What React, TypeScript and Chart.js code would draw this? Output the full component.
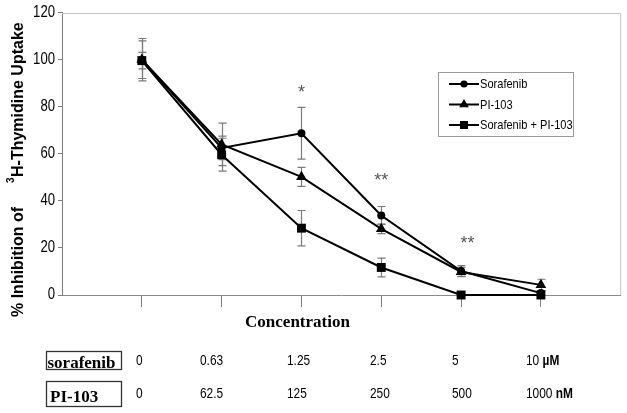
import React, { useEffect, useRef } from 'react';
import { Chart, registerables } from 'chart.js';

Chart.register(...registerables);

// ---------- data ----------
const CONC_INDEX = [0, 1, 2, 3, 4, 5];
const SORAFENIB_CONC = ['0', '0.63', '1.25', '2.5', '5', '10'];
const PI103_CONC = ['0', '62.5', '125', '250', '500', '1000'];
const SORAFENIB_UNIT = 'µM';
const PI103_UNIT = 'nM';

const SORAFENIB_VALUES = [100, 62.5, 68.7, 33.8, 10.2, 0.8];
const SORAFENIB_ERR = [9, 5, 11, 3.8, 2.3, 1];
const PI103_VALUES = [100, 64, 50.2, 28.1, 9.8, 4.3];
const PI103_ERR = [8, 9, 4, 2, 2, 2.4];
const COMBO_VALUES = [99.6, 59.6, 28.4, 11.7, 0, 0];
const COMBO_ERR = [3.5, 7, 7.5, 4, 0, 0];

const SERIES_LABELS = ['Sorafenib', 'PI-103', 'Sorafenib + PI-103'];
const SERIES_MARKERS = ['circle', 'triangle', 'rect'];

const SIGNIF_X = [2, 3, 4.08];
const SIGNIF_Y = [87, 49.5, 23];
const SIGNIF_TEXT = ['*', '**', '**'];

const Y_MIN = 0;
const Y_MAX = 120;
const Y_STEP = 20;

const X_TITLE = 'Concentration';
const Y_TITLE_A = '% Inhibition of';
const Y_TITLE_SUP = '3';
const Y_TITLE_B = 'H-Thymidine Uptake';
const ROW_LABELS = ['sorafenib', 'PI-103'];

// ---------- styles / layout ----------
const SANS = '"Liberation Sans", Arial, sans-serif';
const SERIF = '"Liberation Serif", "Times New Roman", serif';
const NARROW_SCALE = 0.82;
const MARKER_RADIUS: Record<string, number> = { circle: 4, triangle: 6.2, rect: 6.3 };
const TABLE_COL_X = [136, 200, 287, 370, 452, 526];
const TABLE_ROW_BASE = [365, 398];
const TABLE_LABEL_BASE = [367.5, 402];
const TABLE_BOX = [
  { x: 46.5, y: 351.5, w: 75, h: 18 },
  { x: 46.5, y: 381.5, w: 75, h: 25 },
];

function drawMarker(ctx: CanvasRenderingContext2D, style: string, x: number, y: number, r: number) {
  ctx.beginPath();
  if (style === 'circle') {
    ctx.arc(x, y, r, 0, Math.PI * 2);
  } else if (style === 'triangle') {
    const h = r * 0.866;
    ctx.moveTo(x, y - r);
    ctx.lineTo(x + h, y + r / 2);
    ctx.lineTo(x - h, y + r / 2);
    ctx.closePath();
  } else {
    const s = r * Math.SQRT1_2;
    ctx.rect(x - s, y - s, s * 2, s * 2);
  }
  ctx.fill();
}

// draw text horizontally condensed (narrow face)
function narrowText(ctx: CanvasRenderingContext2D, text: string, x: number, y: number) {
  ctx.save();
  ctx.translate(x, y);
  ctx.scale(NARROW_SCALE, 1);
  ctx.fillText(text, 0, 0);
  ctx.restore();
}

const narrowTicksPlugin = {
  id: 'narrowTicks',
  afterLayout(chart: any) {
    const s = chart.scales.y;
    if (!s || s.__narrow) return;
    const orig = s.drawLabels.bind(s);
    s.drawLabels = (area: any) => {
      const ctx = s.ctx;
      const ax = s.right - 7;
      ctx.save();
      ctx.translate(ax, 0);
      ctx.scale(NARROW_SCALE, 1);
      ctx.translate(-ax, 0);
      orig(area);
      ctx.restore();
    };
    s.__narrow = true;
  },
};

const errorBarPlugin = {
  id: 'errorBars',
  beforeDatasetsDraw(chart: any) {
    const { ctx, chartArea, scales } = chart;
    const xs = scales.x;
    const ys = scales.y;
    ctx.save();
    // frame: top and right
    ctx.strokeStyle = '#c4c4c4';
    ctx.lineWidth = 1;
    ctx.beginPath();
    ctx.moveTo(chartArea.left, Math.round(chartArea.top) + 0.5);
    ctx.lineTo(chartArea.right, Math.round(chartArea.top) + 0.5);
    ctx.lineTo(chartArea.right, chartArea.bottom);
    ctx.stroke();
    const errs = [SORAFENIB_ERR, PI103_ERR, COMBO_ERR];
    const vals = [SORAFENIB_VALUES, PI103_VALUES, COMBO_VALUES];
    ctx.strokeStyle = '#7a7a7a';
    ctx.lineWidth = 1.2;
    for (let d = 0; d < vals.length; d++) {
      for (let i = 0; i < CONC_INDEX.length; i++) {
        const e = errs[d][i];
        if (!e) continue;
        const x = Math.round(xs.getPixelForValue(CONC_INDEX[i])) + 0.5;
        const yt = ys.getPixelForValue(vals[d][i] + e);
        const yb = ys.getPixelForValue(Math.max(vals[d][i] - e, Y_MIN));
        ctx.beginPath();
        ctx.moveTo(x, yt);
        ctx.lineTo(x, yb);
        ctx.moveTo(x - 4, yt);
        ctx.lineTo(x + 4, yt);
        ctx.moveTo(x - 4, yb);
        ctx.lineTo(x + 4, yb);
        ctx.stroke();
      }
    }
    ctx.restore();
  },
  afterDatasetsDraw(chart: any) {
    const { ctx, scales } = chart;
    ctx.save();
    ctx.fillStyle = '#555';
    ctx.font = `18px ${SANS}`;
    ctx.textAlign = 'center';
    ctx.textBaseline = 'middle';
    for (let i = 0; i < SIGNIF_TEXT.length; i++) {
      ctx.fillText(SIGNIF_TEXT[i], scales.x.getPixelForValue(SIGNIF_X[i]), scales.y.getPixelForValue(SIGNIF_Y[i]) + 3);
    }
    ctx.restore();
  },
};

const decorPlugin = {
  id: 'decor',
  afterDraw(chart: any) {
    const { ctx } = chart;
    ctx.save();
    // legend
    ctx.strokeStyle = '#9a9a9a';
    ctx.lineWidth = 1;
    ctx.strokeRect(438.5, 72.5, 135, 64);
    const rows = [84, 104.5, 125];
    chart.data.datasets.forEach((ds: any, i: number) => {
      const y = rows[i];
      ctx.strokeStyle = '#000';
      ctx.lineWidth = 2;
      ctx.beginPath();
      ctx.moveTo(449, y);
      ctx.lineTo(479, y);
      ctx.stroke();
      ctx.fillStyle = '#000';
      drawMarker(ctx, SERIES_MARKERS[i], 464, y, MARKER_RADIUS[SERIES_MARKERS[i]] * 0.9);
      ctx.font = `13.5px ${SANS}`;
      ctx.textAlign = 'left';
      ctx.textBaseline = 'middle';
      narrowText(ctx, ds.label, 480, y + 0.5);
    });

    // y title (rotated)
    ctx.fillStyle = '#000';
    ctx.translate(19, 317);
    ctx.rotate(-Math.PI / 2);
    ctx.textAlign = 'left';
    ctx.textBaseline = 'middle';
    ctx.font = `bold 16px ${SANS}`;
    ctx.fillText(Y_TITLE_A, 0, 0);
    ctx.font = `bold 10px ${SANS}`;
    ctx.fillText(Y_TITLE_SUP, 134, -8);
    ctx.font = `bold 16px ${SANS}`;
    ctx.fillText(Y_TITLE_B, 140, 0);
    ctx.setTransform(1, 0, 0, 1, 0, 0);

    // x title
    ctx.font = `bold 17px ${SERIF}`;
    ctx.textAlign = 'center';
    ctx.textBaseline = 'alphabetic';
    ctx.fillText(X_TITLE, 297.5, 327);

    // table
    const rowVals = [SORAFENIB_CONC, PI103_CONC];
    const units = [SORAFENIB_UNIT, PI103_UNIT];
    for (let r = 0; r < 2; r++) {
      const b = TABLE_BOX[r];
      ctx.strokeStyle = '#333';
      ctx.lineWidth = 1.3;
      ctx.strokeRect(b.x, b.y, b.w, b.h);
      ctx.font = `bold 17px ${SERIF}`;
      ctx.textAlign = 'left';
      ctx.fillText(ROW_LABELS[r], b.x + (r === 0 ? 1 : 3.5), TABLE_LABEL_BASE[r]);
      for (let c = 0; c < rowVals[r].length; c++) {
        ctx.font = `14.5px ${SANS}`;
        const t = rowVals[r][c];
        narrowText(ctx, t, TABLE_COL_X[c], TABLE_ROW_BASE[r]);
        if (c === rowVals[r].length - 1) {
          const w = ctx.measureText(t + ' ').width * NARROW_SCALE;
          ctx.font = `bold 14.5px ${SANS}`;
          narrowText(ctx, units[r], TABLE_COL_X[c] + w, TABLE_ROW_BASE[r]);
        }
      }
    }
    ctx.restore();
  },
};

export default function App() {
  const ref = useRef<HTMLCanvasElement | null>(null);
  useEffect(() => {
    if (!ref.current) return;
    const mk = (vals: number[]) => CONC_INDEX.map((x, i) => ({ x, y: vals[i] }));
    const seriesVals = [SORAFENIB_VALUES, PI103_VALUES, COMBO_VALUES];
    const chart = new Chart(ref.current, {
      type: 'line',
      data: {
        datasets: seriesVals.map((v, i) => ({
          label: SERIES_LABELS[i],
          data: mk(v),
          borderColor: '#000',
          backgroundColor: '#000',
          borderWidth: 2,
          pointStyle: SERIES_MARKERS[i] as any,
          pointRadius: MARKER_RADIUS[SERIES_MARKERS[i]],
          pointBorderWidth: 0,
          pointBackgroundColor: '#000',
          tension: 0,
          clip: false as any,
        })),
      },
      options: {
        animation: false,
        responsive: true,
        maintainAspectRatio: false,
        devicePixelRatio: 1,
        layout: { padding: { top: 12, right: 6, left: 0, bottom: 0 } },
        plugins: { legend: { display: false }, tooltip: { enabled: false } },
        scales: {
          x: {
            type: 'linear',
            min: -1,
            max: 6,
            afterBuildTicks: (s: any) => {
              s.ticks = CONC_INDEX.map((v) => ({ value: v }));
            },
            afterFit: (s: any) => {
              s.height = 118;
            },
            ticks: { display: false },
            grid: { display: true, drawOnChartArea: false, drawTicks: true, tickLength: 12, color: '#7c7c7c', lineWidth: 1 },
            border: { display: true, color: '#8a8a8a', width: 1 },
          },
          y: {
            min: Y_MIN,
            max: Y_MAX,
            afterFit: (s: any) => {
              s.width = 62;
            },
            ticks: { stepSize: Y_STEP, color: '#000', padding: 3, font: { family: SANS, size: 16 } },
            grid: { display: true, drawOnChartArea: false, drawTicks: true, tickLength: 4, color: '#7c7c7c' },
            border: { display: true, color: '#7c7c7c', width: 1 },
          },
        },
      },
      plugins: [narrowTicksPlugin, errorBarPlugin, decorPlugin],
    });
    return () => chart.destroy();
  }, []);
  return (
    <div style={{ position: 'fixed', left: 0, top: 0, width: 627, height: 413, background: '#fff' }}>
      <canvas ref={ref} />
    </div>
  );
}
